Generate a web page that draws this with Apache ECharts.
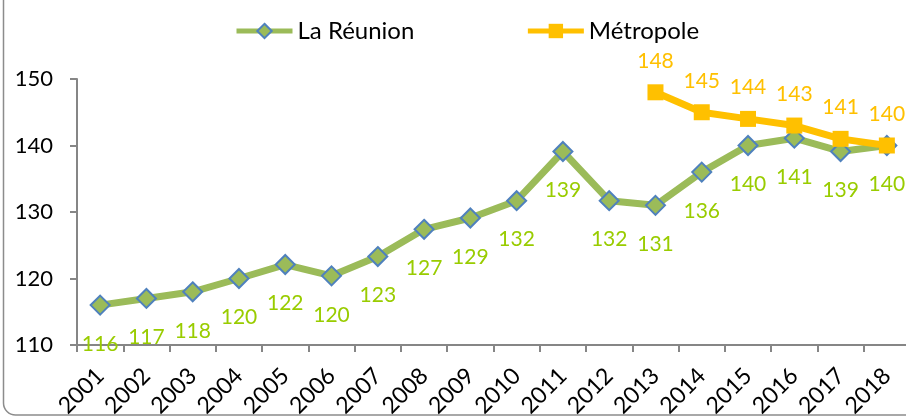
<!DOCTYPE html>
<html>
<head>
<meta charset="utf-8">
<script src="https://cdn.jsdelivr.net/npm/echarts@6/dist/echarts.min.js"></script>
<style>
  html, body { margin: 0; padding: 0; background: #fff; }
  #chart { width: 906px; height: 417px; }
</style>
</head>
<body>
<div id="chart"></div>
<script>
var years = ['2001','2002','2003','2004','2005','2006','2007','2008','2009','2010','2011','2012','2013','2014','2015','2016','2017','2018'];
// La Réunion
var reunion = [116, 117, 118, 120, 122.1, 120.4, 123.3, 127.4, 129.1, 131.7, 139.1, 131.7, 131, 136, 140, 141.1, 139.1, 140];
var reunionLabels = ['116','117','118','120','122','120','123','127','129','132','139','132','131','136','140','141','139','140'];
// Métropole (from 2013)
var metropole = [null, null, null, null, null, null, null, null, null, null, null, null, 148, 145, 144, 143, 141, 140];
var yTicks = [110, 120, 130, 140, 150];

var font = 'Lato';
var chart = echarts.init(document.getElementById('chart'));

var option = {
    animation: false,
    textStyle: { fontFamily: font },
    legend: {
        left: 229,
        top: 14,
        itemWidth: 56,
        itemHeight: 18,
        itemGap: 111,
        lineStyle: { width: 5 },
        textStyle: { fontSize: 24, color: '#000', fontFamily: font },
        data: ['La Réunion', 'Métropole']
    },
    grid: {
        left: 77,
        right: -4,
        top: 79,
        bottom: 72,
        containLabel: false,
        outerBoundsMode: 'none'
    },
    graphic: [{
        type: 'rect',
        shape: { x: 3.5, y: -30, width: 1000, height: 445, r: 12 },
        style: { fill: 'none', stroke: '#8c8c8c', lineWidth: 1.5 },
        silent: true,
        z: -1
    }],
    xAxis: {
        type: 'category',
        data: years,
        boundaryGap: true,
        axisLine: { lineStyle: { color: '#868686', width: 2 } },
        axisTick: { show: true, length: 7, alignWithLabel: false, lineStyle: { color: '#868686', width: 2 } },
        axisLabel: { rotate: 45, fontSize: 23, color: '#000', margin: 27, fontFamily: font, interval: 0 }
    },
    yAxis: {
        type: 'value',
        min: yTicks[0],
        max: yTicks[yTicks.length - 1],
        interval: 10,
        splitLine: { show: false },
        axisLine: { show: true, lineStyle: { color: '#868686', width: 2 } },
        axisTick: { show: true, length: 7, inside: false, lineStyle: { color: '#868686', width: 2 } },
        axisLabel: { fontSize: 22, color: '#000', margin: 24, fontFamily: font }
    },
    series: [
        {
            name: 'La Réunion',
            type: 'line',
            data: reunion,
            symbol: 'diamond',
            symbolSize: 19,
            lineStyle: { color: '#9BBB59', width: 7 },
            itemStyle: { color: '#9BBB59', borderColor: '#4F81BD', borderWidth: 2 },
            label: {
                show: true,
                position: 'bottom',
                distance: 18,
                fontSize: 21,
                color: '#99CC00',
                fontFamily: font,
                formatter: function (p) { return reunionLabels[p.dataIndex]; }
            },
            z: 2
        },
        {
            name: 'Métropole',
            type: 'line',
            data: metropole,
            symbol: 'rect',
            symbolSize: 16,
            lineStyle: { color: '#FFC000', width: 7 },
            itemStyle: { color: '#FFC000', borderColor: '#FFC000', borderWidth: 0 },
            label: {
                show: true,
                position: 'top',
                distance: 13,
                fontSize: 21,
                color: '#FFC000',
                fontFamily: font
            },
            z: 3
        }
    ]
};
chart.setOption(option);
</script>
</body>
</html>
